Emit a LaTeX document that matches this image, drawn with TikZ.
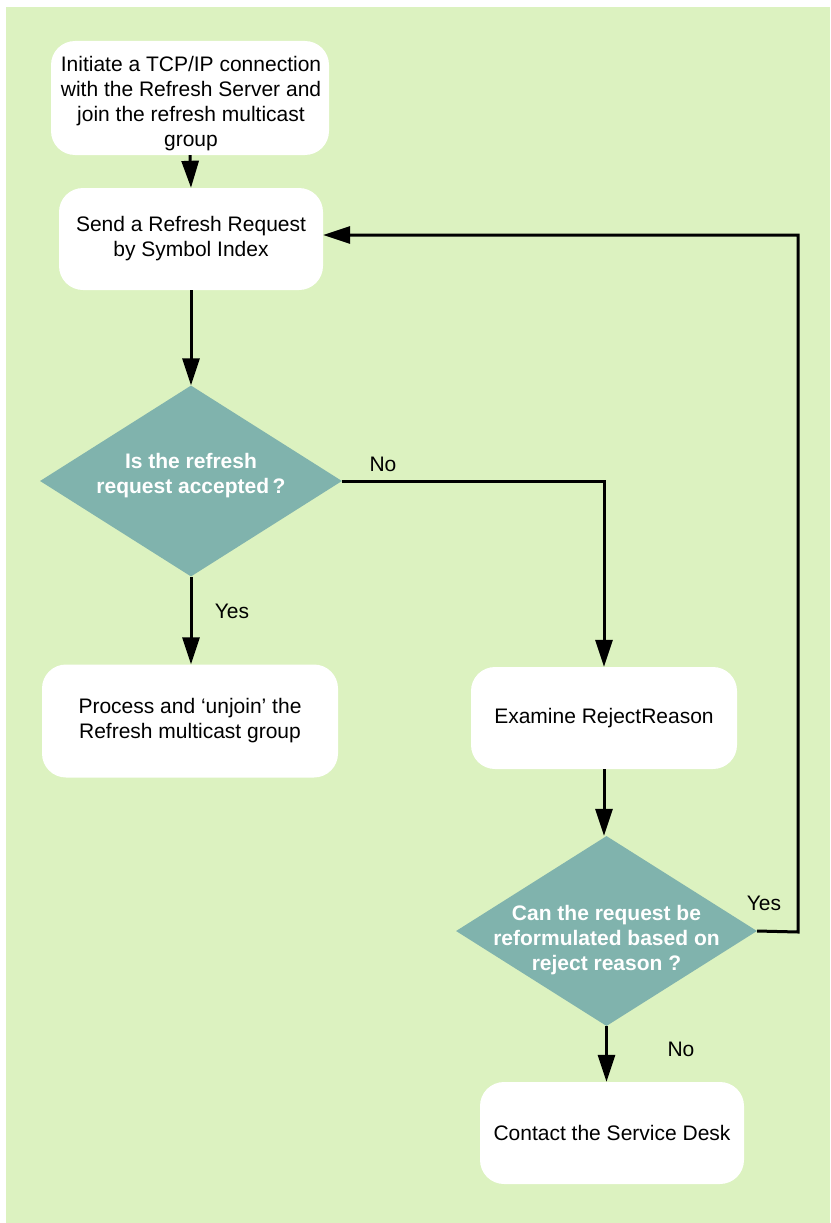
\documentclass[tikz,border=0pt]{standalone}
\usepackage{fontspec}
\setmainfont{Liberation Sans}
\usetikzlibrary{shapes.geometric,arrows.meta}
\definecolor{panelgreen}{RGB}{220,242,192}
\definecolor{decisionteal}{RGB}{128,179,173}
\tikzset{
  stepbox/.style={draw=none, fill=white, rounded corners=24pt, inner sep=0pt,
    align=center, font=\fontsize{21}{25}\selectfont},
  steptext/.style={align=center, font=\fontsize{21}{25}\selectfont},
  decision/.style={diamond, draw=none, fill=decisionteal, inner sep=0pt},
  decisiontext/.style={align=center, text=white,
    font=\fontsize{21}{25}\selectfont\bfseries},
  flow/.style={line width=3pt, -{Triangle[width=17pt,length=27pt]}},
  branch/.style={font=\fontsize{21}{25}\selectfont}
}
\begin{document}
\begin{tikzpicture}[x=1pt,y=-1pt]
  % page and panel
  \useasboundingbox (0,0) rectangle (830,1223);
  \fill[white] (0,0) rectangle (830,1223);
  \fill[panelgreen] (6,7) rectangle (830,1223);

  % process steps
  \node[stepbox, minimum width=278pt, minimum height=114pt] (b1) at (190,98) {};
  \node[steptext] (b1t) at (191,104)
    {Initiate a TCP/IP connection\\with the Refresh Server and\\join the refresh multicast\\group};
  \node[stepbox, minimum width=264pt, minimum height=102pt] (b2) at (191,239)
    {Send a Refresh Request\\by Symbol Index};
  \node[stepbox, minimum width=296pt, minimum height=113pt] (b3) at (190,721)
    {Process and ‘unjoin’ the\\Refresh multicast group};
  \node[stepbox, minimum width=266pt, minimum height=102pt] (b4) at (604,718)
    {Examine RejectReason};
  \node[stepbox, minimum width=264pt, minimum height=102pt] (b5) at (612,1133)
    {Contact the Service Desk};

  % decisions
  \node[decision, minimum width=302pt, minimum height=191pt] (d1) at (191,481) {};
  \node[decisiontext] (d1t) at (191,476) {Is the refresh\\request accepted\,?};
  \node[decision, minimum width=301pt, minimum height=190pt] (d2) at (606.5,931) {};
  \node[decisiontext] (d2t) at (606.5,940) {Can the request be\\reformulated based on\\reject reason ?};

  % connectors
  \draw[flow] (b1.south) -- (b2.north);
  \draw[flow] (b2.south) -- (d1.north);
  \draw[flow] (d1.south) -- (d1.south |- b3.north);
  \draw[flow] (d1.east) -| (b4.north);
  \draw[flow] (b4.south) -- (b4.south |- d2.north);
  \draw[flow] (d2.south) -- (d2.south |- b5.north);
  \coordinate (loop) at (798,932);
  \coordinate (backin) at (b2.east |- 0,235);
  \draw[flow] (d2.east) -- (loop) |- (backin);

  % branch labels
  \node[branch] (l1) at (383,464) {No};
  \node[branch] (l2) at (232,611) {Yes};
  \node[branch] (l3) at (764,903) {Yes};
  \node[branch] (l4) at (681,1049) {No};
\end{tikzpicture}
\end{document}
